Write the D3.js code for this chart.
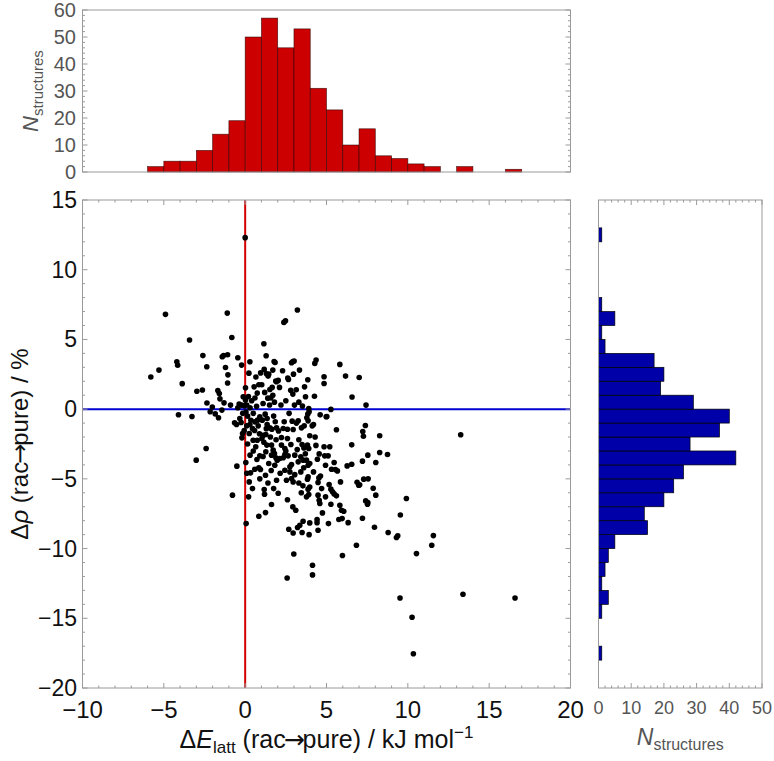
<!DOCTYPE html>
<html><head><meta charset="utf-8">
<script src="https://cdn.jsdelivr.net/npm/d3@7"></script>
<style>body{margin:0;background:#fff} svg{display:block} text{font-family:"Liberation Sans",Arial,Helvetica,sans-serif}</style>
</head><body><svg id="c" width="774" height="761"></svg>
<script>
// ---- data ----
const topBinStarts = [-6,-5,-4,-3,-2,-1,0,1,2,3,4,5,6,7,8,9,10,11,12,13,14,15,16];
const topCounts    = [2,4,4,8,14,19,50,57,46,53,31,23,10,16,6,5,3,2,0,2,0,0,1];
const rightBinStarts = [-18,-17,-16,-15,-14,-13,-12,-11,-10,-9,-8,-7,-6,-5,-4,-3,-2,-1,0,1,2,3,4,5,6,7,8,9,10,11,12];
const rightCounts    = [1,0,0,1,3,1,2,3,5,15,14,20,23,26,42,28,37,40,29,19,20,17,2,1,5,1,0,0,0,0,1];
const xTicks = [-10,-5,0,5,10,15,20];
const yTicks = [-20,-15,-10,-5,0,5,10,15];
const topTicks = [0,10,20,30,40,50,60];
const rightTicks = [0,10,20,30,40,50];
const points = [
[-5.8,2.3],[-5.3,2.8],
[-4.9,6.8],[-4.2,3.4],[-4.15,3.15],[-4.1,-0.4],
[-3.87,1.83],[-3.42,4.96],[-3.27,-0.53],[-3.01,-3.66],
[-2.6,3.84],[-2.36,3.04],[-2.97,1.28],[-2.63,1.37],[-2.35,0.44],[-2.4,-2.82],[-2.15,-0.19],[-2.02,0.15],
[-1.84,-0.34],[-1.64,-0.62],[-1.43,-0.07],[-1.41,3.76],[-1.33,3.85],[-1.08,3.9],[-1.21,2.99],[-1.06,2.46],[-1.08,1.87],[-1.68,1.34],[-1.59,1.12],[-1.55,0.74],[-1.1,6.89],[-1.3,0.45],
[-0.9,0.29],[-0.82,5.14],[-0.45,3.69],[-0.22,3.16],[-0.78,-6.17],[-0.51,-4.09],[-0.53,-1.1],[-0.2,-2.06],[-0.06,-1.53],[-0.33,-0.67],[-0.37,0.36],[-0.22,0.29],[-0.12,0.89],[-0.65,-0.98],[-0.15,-0.3],[-0.45,0.1],[-0.25,-0.95],[-0.16,-1.75],[-0.05,0.25],
[0,12.3],[0.29,3.4],[0.23,2.58],[0.66,2.3],[0.84,1.75],[0.74,1.15],[0.02,1.53],[0.9,-0.55],[0.76,-0.79],[0.6,-0.91],[0.58,-1.53],[0.88,-1.77],[0.49,-2.23],[0.74,-2.23],[0.9,-3.35],[0.72,-3.61],[0.59,-4.31],[0.84,-4.21],[0.94,-4.33],[0.84,-7.68],[0.33,-4.57],[0.25,-5.22],[0.21,-6.29],[0.04,-3.83],[0.06,-8.21],[0.29,-1.1],[0.25,-1.75],[0.02,0.65],[0.1,0.3],[0.3,0.1],[0.5,-0.3],[0.15,-0.5],[0.4,0.6],[0.6,0.8],[0.2,0.9],[0.05,-0.2],[0.7,0.2],[0.35,-0.8],[0.1,-1.2],[0.45,-1.4],[0.8,-1.2],[0.15,-2.5],[0.5,-3.0],[0.3,-3.3],[0.65,-2.7],[0.9,-5.0],[0.45,-5.7],[0.1,-4.6],[0.95,2.6],[0.55,1.6],
[1.15,4.69],[1.29,3.83],[1.17,2.85],[1.31,2.54],[1.41,2.37],[1.78,3.42],[1.84,3.35],[1.88,2.01],[1.66,1.56],[1.02,1.75],[1.39,0.79],[1.58,0.81],[1.25,-7.42],[1.62,-6.84],[1.17,-5.77],[1.19,-6.1],[1.25,-4.74],[1.93,-5.1],[1.89,-3.49],[1.97,-3.66],[1.93,-1.34],[1.23,-0.36],[1.35,-0.67],[1.05,-0.79],[1.11,-1.87],[1.27,-1.82],[1.64,-1.44],[1.52,-1.34],[1.03,-2.11],[1.15,-2.37],[1.33,-2.58],[1.62,-2.58],[1.72,-2.94],[1.8,-3.18],[1.62,-3.3],[1.27,-3.06],[1.82,-4.02],[1.45,2.51],[1.52,1.41],[1.92,1.96],[1.7,1.0],[1.2,1.2],[1.5,0.3],[1.8,0.5],[1.1,0.4],[1.35,-1.1],[1.75,-0.5],[1.9,-2.2],[1.45,-3.9],[1.6,-4.4],[1.4,-5.3],[1.75,-5.7],[1.1,-3.4],[1.85,-0.9],[1.55,-2.0],[1.3,-1.4],[1.7,2.8],
[2.38,6.22],[2.48,6.34],[2.85,3.33],[2.3,2.75],[2.62,2.23],[2.97,2.51],[2.03,2.06],[2.11,1.56],[2.8,1.36],[2.93,1.08],[2.89,-0.86],[2.6,-1.44],[2.95,-1.46],[2.81,-2.54],[2.44,-3.25],[2.64,-3.35],[2.85,-3.97],[2.75,-4.14],[2.44,-4.38],[2.75,-4.5],[2.85,-4.98],[2.54,-5.1],[2.95,-5.22],[2.93,-7.01],[2.68,-8.61],[2.95,-8.88],[2.99,-10.39],[2.58,-12.11],[2.03,-6.03],[2.34,-3.49],[2.6,-2.11],[2.44,-2.82],[2.23,-2.58],[2.13,-3.54],[2.5,-3.0],[2.34,-1.39],[2.05,-1.56],[2.23,-2.03],[2.66,2.13],[2.93,3.42],[2.2,0.3],[2.5,0.6],[2.7,-0.3],[2.4,-0.9],[2.15,-4.6],[2.6,-6.5],
[3.21,7.11],[3.34,2.8],[3.85,2.11],[3.14,1.39],[3.71,0.89],[3.03,0.29],[3.52,0.22],[3.91,0.05],[3.93,-0.19],[3.26,-0.84],[3.87,-0.84],[3.79,-0.62],[3.46,-1.34],[3.63,-1.2],[3.97,-1.91],[3.5,-2.54],[3.61,-2.78],[3.83,-2.58],[3.91,-2.82],[3.05,-3.3],[3.42,-3.42],[3.56,-3.66],[3.77,-3.66],[3.97,-3.9],[3.87,-4.02],[3.26,-3.78],[3.42,-4.5],[3.87,-4.86],[3.83,-5.02],[3.87,-5.74],[3.97,-5.58],[3.77,-6.29],[3.91,-6.13],[3.11,-7.25],[3.97,-8.16],[3.56,-8.04],[3.36,-8.33],[3.22,-8.49],[3.5,-8.85],[3.93,-9.0],[3.01,3.45],[3.85,-0.35],[3.3,-2.2],[3.15,-1.0],[3.6,-4.2],[3.3,-5.3],[3.45,-6.0],[3.2,-2.9],[3.7,-3.2],[3.05,-4.7],[3.55,-5.5],[3.65,1.6],[3.3,0.5],
[4.28,3.28],[4.36,3.52],[4.85,2.32],[4.85,1.84],[4.26,0.93],[4.2,-1.1],[4.61,-0.41],[4.85,-2.7],[4.14,-11.2],[4.14,-11.89],[4.89,-3.35],[4.94,-4.02],[4.75,-7.44],[4.42,-7.92],[4.42,-8.14],[4.48,-8.69],[4.48,-6.17],[4.55,-6.53],[4.94,-6.29],[4.59,-6.77],[4.44,-3.59],[4.55,-3.21],[4.48,-5.26],[4.63,-4.79],[4.53,-4.93],[4.98,-0.55],[4.12,-1.2],[4.3,-2.0],[4.2,-4.5],[4.7,-5.7],[4.35,-2.6],
[5.82,3.21],[5.27,-0.02],[5.02,-0.53],[5.61,-1.48],[5.98,-10.5],[5.96,-7.85],[5.76,-7.92],[5.86,-5.22],[5.82,-6.89],[5.92,-7.25],[5.2,-2.7],[5.47,-3.83],[5.55,-4.33],[5.31,-4.31],[5.67,-4.43],[5.1,-3.35],[5.16,-5.41],[5.27,-5.74],[5.37,-5.93],[5.47,-6.08],[5.61,-6.22],[5.12,-8.21],[5.27,-6.82],
[6.17,2.37],[6.57,0.87],[6.55,-2.56],[6.55,-3.95],[6.84,-9.76],[6.88,-5.24],[6.27,-4.07],[6.33,-8.14],[6.98,-5.46],[6.06,-7.32],
[7.43,0.29],[7.01,2.27],[7.39,-1.17],[7.23,-1.6],[7.27,-1.94],[7.54,-3.3],[7.21,-3.73],[7.21,-7.83],[7.95,-8.47],[7.41,-6.58],[7.52,-6.82],[7.87,-5.67],[7.29,-5.02],[7.56,-5.0],[7.04,-5.43],[7.54,-6.7],
[8.79,-8.85],[8.27,-1.91],[8.75,-3.25],[8.27,-3.11],[8.03,-3.83],[8.03,-6.17],
[9.91,-6.41],[9.54,-7.59],[9.3,-9.21],[9.38,-9.08],[9.52,-13.54],
[10.53,-10.36],[10.26,-14.93],[10.34,-17.54],
[11.57,-9.07],[11.47,-9.76],
[13.25,-1.84],[13.39,-13.28],
[16.59,-13.54]
];

// ---- scales ----
const svg = d3.select('#c');
const x = d3.scaleLinear().domain([-10,20]).range([82.5,570.5]);
const y = d3.scaleLinear().domain([-20,15]).range([688,200]);
const yTop = d3.scaleLinear().domain([0,60]).range([172,10]);
const xR = d3.scaleLinear().domain([0,50]).range([598.5,762]);
const fmt = d3.format('d');
const frameCol = '#9a9a9a';

function ticksLines(g, arr, fn) {
  g.selectAll(null).data(arr).enter().append('line')
    .each(function(d){ const c = fn(d); d3.select(this).attr('x1',c[0]).attr('y1',c[1]).attr('x2',c[2]).attr('y2',c[3]); })
    .attr('stroke', frameCol).attr('stroke-width',1);
}

// ---- top histogram ----
const gt = svg.append('g');
gt.selectAll('rect').data(topBinStarts.map((s,i)=>({s, c: topCounts[i]})).filter(d=>d.c>0))
  .enter().append('rect')
  .attr('x', d=>x(d.s)).attr('width', d=>x(d.s+1)-x(d.s))
  .attr('y', d=>yTop(d.c)).attr('height', d=>yTop(0)-yTop(d.c))
  .attr('fill','#cc0000').attr('stroke','rgba(40,0,0,0.75)').attr('stroke-width',0.7);
gt.append('rect').attr('x',x(-10)).attr('y',yTop(60)).attr('width',x(20)-x(-10)).attr('height',yTop(0)-yTop(60))
  .attr('fill','none').attr('stroke',frameCol).attr('stroke-width',1);
const topMinor = d3.range(0,61,2);
ticksLines(gt, topMinor, d=>{const L = d%10===0?5:2.5; return [x(-10),yTop(d),x(-10)+L,yTop(d)];});
ticksLines(gt, topMinor, d=>{const L = d%10===0?5:2.5; return [x(20),yTop(d),x(20)-L,yTop(d)];});
gt.selectAll('text.tl').data(topTicks).enter().append('text')
  .attr('x', 76).attr('y', d=>yTop(d)+7).attr('text-anchor','end')
  .attr('font-size',20).attr('fill','#555').text(fmt);
const tt = gt.append('text').attr('transform','translate(38,'+((yTop(0)+yTop(60))/2)+') rotate(-90)')
  .attr('text-anchor','middle').attr('font-size',22).attr('fill','#555');
tt.append('tspan').attr('font-style','italic').text('N');
tt.append('tspan').attr('font-size',15).attr('dy',5).text('structures');

// ---- right histogram ----
const gr = svg.append('g');
gr.selectAll('rect').data(rightBinStarts.map((s,i)=>({s, c: rightCounts[i]})).filter(d=>d.c>0))
  .enter().append('rect')
  .attr('x', xR(0)).attr('width', d=>xR(d.c)-xR(0))
  .attr('y', d=>y(d.s+1)).attr('height', d=>y(d.s)-y(d.s+1))
  .attr('fill','#0000a8').attr('stroke','#000').attr('stroke-width',0.7);
gr.append('rect').attr('x',xR(0)).attr('y',y(15)).attr('width',xR(50)-xR(0)).attr('height',y(-20)-y(15))
  .attr('fill','none').attr('stroke',frameCol).attr('stroke-width',1);
const rMinor = d3.range(0,51,2);
ticksLines(gr, rMinor, d=>{const L = d%10===0?5:2.5; return [xR(d),y(15),xR(d),y(15)+L];});
ticksLines(gr, rMinor, d=>{const L = d%10===0?5:2.5; return [xR(d),y(-20),xR(d),y(-20)-L];});
gr.selectAll('text.tl').data(rightTicks).enter().append('text')
  .attr('x', d=>xR(d)).attr('y', 714).attr('text-anchor','middle')
  .attr('font-size',18).attr('fill','#555').text(fmt);
const rt = gr.append('text').attr('x',(xR(0)+xR(50))/2).attr('y',745).attr('text-anchor','middle')
  .attr('font-size',23).attr('fill','#555');
rt.append('tspan').attr('font-style','italic').text('N');
rt.append('tspan').attr('font-size',16).attr('dy',5).text('structures');

// ---- main scatter ----
const gm = svg.append('g');
gm.append('line').attr('x1',x(0)).attr('x2',x(0)).attr('y1',y(15)).attr('y2',y(-20))
  .attr('stroke','#d40000').attr('stroke-width',2);
gm.append('line').attr('x1',x(-10)).attr('x2',x(20)).attr('y1',y(0)).attr('y2',y(0))
  .attr('stroke','#0000d0').attr('stroke-width',2);
gm.selectAll('circle').data(points).enter().append('circle')
  .attr('cx', d=>x(d[0])).attr('cy', d=>y(d[1])).attr('r',2.8).attr('fill','#000');
gm.append('rect').attr('x',x(-10)).attr('y',y(15)).attr('width',x(20)-x(-10)).attr('height',y(-20)-y(15))
  .attr('fill','none').attr('stroke',frameCol).attr('stroke-width',1);
const xMinor = d3.range(-10,20.5,1);
const yMinor = d3.range(-20,15.5,1);
ticksLines(gm, xMinor, d=>{const L = d%5===0?5:2.5; return [x(d),y(-20),x(d),y(-20)-L];});
ticksLines(gm, xMinor, d=>{const L = d%5===0?5:2.5; return [x(d),y(15),x(d),y(15)+L];});
ticksLines(gm, yMinor, d=>{const L = d%5===0?5:2.5; return [x(-10),y(d),x(-10)+L,y(d)];});
ticksLines(gm, yMinor, d=>{const L = d%5===0?5:2.5; return [x(20),y(d),x(20)-L,y(d)];});
gm.selectAll('text.xl').data(xTicks).enter().append('text')
  .attr('x', d=>x(d)).attr('y', 718).attr('text-anchor','middle')
  .attr('font-size',24).attr('fill','#111').text(fmt);
gm.selectAll('text.yl').data(yTicks).enter().append('text')
  .attr('x', 77).attr('y', d=>y(d)+8).attr('text-anchor','end')
  .attr('font-size',23).attr('fill','#111').text(fmt);
// axis titles
const xt = gm.append('text').attr('x',(x(-10)+x(20))/2).attr('y',748).attr('text-anchor','middle')
  .attr('font-size',25).attr('fill','#111');
xt.append('tspan').text('Δ');
xt.append('tspan').attr('font-style','italic').text('E');
xt.append('tspan').attr('font-size',17).attr('dy',5).text('latt');
xt.append('tspan').attr('dy',-5).text(' (rac');
xt.append('tspan').attr('font-family','DejaVu Sans').attr('dx',-2).text('→');
xt.append('tspan').attr('dx',-2).text('pure) / kJ mol');
xt.append('tspan').attr('font-size',17).attr('dy',-10).text('−1');
const yt = gm.append('text').attr('transform','translate(28,'+((y(15)+y(-20))/2)+') rotate(-90)')
  .attr('text-anchor','middle').attr('font-size',24).attr('fill','#111');
yt.append('tspan').text('Δ');
yt.append('tspan').attr('font-style','italic').text('ρ');
yt.append('tspan').text(' (rac');
yt.append('tspan').attr('font-family','DejaVu Sans').attr('dx',-2).text('→');
yt.append('tspan').attr('dx',-2).text('pure) / %');
</script></body></html>
